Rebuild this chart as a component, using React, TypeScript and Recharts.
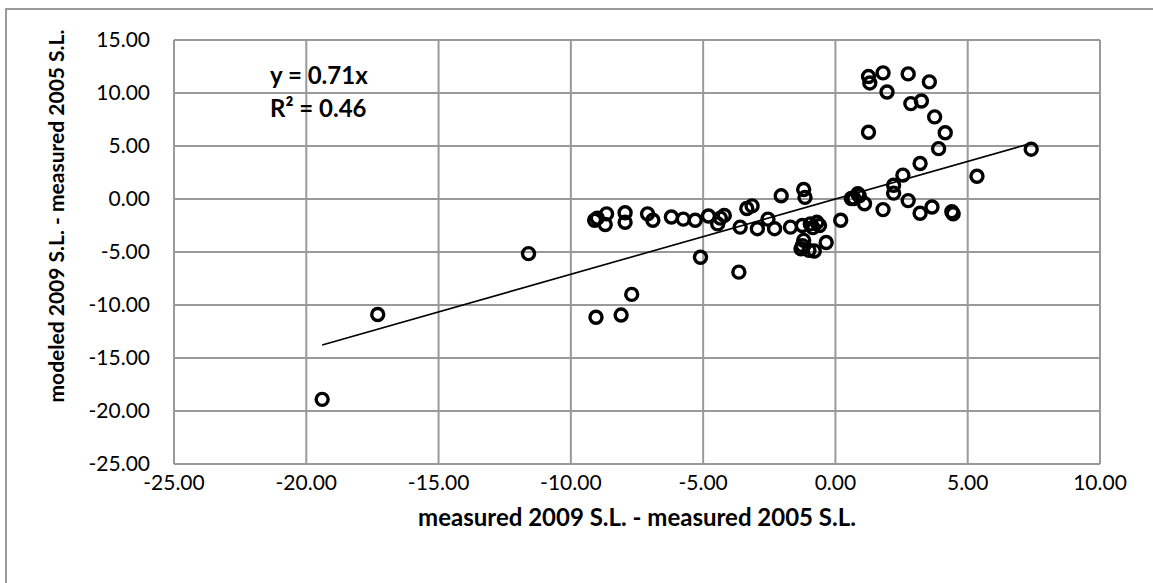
import React from 'react';
import { ScatterChart, Scatter, XAxis, YAxis, CartesianGrid, ReferenceLine, Label } from 'recharts';

// measured 2009 S.L. - measured 2005 S.L.
const measured = [
  -19.4, -17.3, -11.6, -9.05, -8.1, -7.7,
  -9.1, -9.0, -8.65, -8.7, -7.95, -7.95, -7.1, -6.9, -6.2, -5.75, -5.3,
  -4.8, -4.45, -4.2, -4.35, -3.6, -3.35, -3.15, -2.95, -2.55, -2.3, -2.05, -1.7,
  -1.2, -1.15, -1.25, -0.95, -0.7, -0.6, -0.85, -1.2, -1.25, -1.0, -0.8, -0.35, -1.3,
  0.2, 0.7, 0.9, -3.65, -5.1,
  1.25, 1.3, 1.8, 2.75, 3.55, 1.95, 2.85, 3.25, 3.75, 4.15, 1.25, 3.9, 3.2, 2.55,
  2.2, 2.2, 0.85, 0.6, 1.1, 1.8, 2.75, 3.2, 3.65, 4.4, 4.45, 5.35, 7.4,
];

// modeled 2009 S.L. - measured 2005 S.L.
const modeled = [
  -18.9, -10.9, -5.15, -11.15, -10.95, -9.0,
  -2.0, -1.8, -1.4, -2.4, -1.3, -2.2, -1.4, -2.0, -1.7, -1.9, -2.0,
  -1.6, -2.35, -1.55, -1.8, -2.65, -0.9, -0.65, -2.8, -1.9, -2.8, 0.3, -2.65,
  0.9, 0.15, -2.5, -2.35, -2.2, -2.5, -2.7, -3.9, -4.4, -4.85, -4.9, -4.1, -4.7,
  -2.0, 0.05, 0.3, -6.9, -5.5,
  11.55, 10.95, 11.9, 11.8, 11.05, 10.1, 9.0, 9.25, 7.75, 6.25, 6.3, 4.75, 3.35, 2.25,
  1.3, 0.55, 0.5, 0.05, -0.45, -1.0, -0.15, -1.35, -0.75, -1.2, -1.4, 2.15, 4.7,
];

const xTicks = [-25, -20, -15, -10, -5, 0, 5, 10];
const yTicks = [-25, -20, -15, -10, -5, 0, 5, 10, 15];
const slope = 0.71;
const rSquared = 0.46;

const points = measured.map((x, i) => ({ x, y: modeled[i] }));
const minX = Math.min(...measured);
const maxX = Math.max(...measured);

const font = 'Lato, "Open Sans", sans-serif';
const gridColor = '#9a9a9a';

const Ring = (props: any) => (
  <circle cx={props.cx} cy={props.cy} r={6} fill="none" stroke="#000" strokeWidth={3.4} />
);

export default function App() {
  return (
    <div style={{ position: 'absolute', left: 0, top: 0, width: 1153, height: 583, background: '#fff', fontFamily: font }}>
      {/* chart frame */}
      <div style={{ position: 'absolute', left: 5, top: 8, width: 1148, height: 575, borderLeft: `2px solid ${gridColor}`, borderTop: `2px solid ${gridColor}`, boxSizing: 'border-box' }} />
      <div style={{ position: 'absolute', left: 0, top: 0 }}>
        <ScatterChart width={1153} height={583} margin={{ top: 40, right: 53, bottom: 59, left: 74 }}>
          <CartesianGrid stroke={gridColor} strokeWidth={2} />
          <XAxis
            type="number"
            dataKey="x"
            domain={[-25, 10]}
            ticks={xTicks}
            tickFormatter={(v: number) => v.toFixed(2)}
            axisLine={{ stroke: gridColor, strokeWidth: 2 }}
            tickLine={false}
            tickSize={0}
            tickMargin={11}
            height={60}
            tick={{ fill: '#000', fontSize: 21, fontFamily: font }}
          >
            <Label
              content={() => (
                <text x={637} y={526} textAnchor="middle" fontSize={24} fontWeight="bold" fontFamily={font} fill="#000">
                  measured 2009 S.L. - measured 2005 S.L.
                </text>
              )}
            />
          </XAxis>
          <YAxis
            type="number"
            dataKey="y"
            domain={[-25, 15]}
            ticks={yTicks}
            tickFormatter={(v: number) => v.toFixed(2)}
            axisLine={{ stroke: gridColor, strokeWidth: 2 }}
            tickLine={false}
            tickSize={0}
            tickMargin={24}
            width={100}
            tick={{ fill: '#000', fontSize: 21, fontFamily: font }}
          >
            <Label
              content={() => (
                <text
                  x={64}
                  y={216}
                  transform="rotate(-90 64 216)"
                  textAnchor="middle"
                  fontSize={21}
                  fontWeight="bold"
                  fontFamily={font}
                  fill="#000"
                >
                  modeled 2009 S.L. - measured 2005 S.L.
                </text>
              )}
            />
          </YAxis>
          <ReferenceLine
            segment={[{ x: minX, y: slope * minX }, { x: maxX, y: slope * maxX }]}
            stroke="#000"
            strokeWidth={1.6}
          />
          <Scatter data={points} shape={Ring} isAnimationActive={false} />
        </ScatterChart>
      </div>
      <svg width={1153} height={583} style={{ position: 'absolute', left: 0, top: 0, pointerEvents: 'none' }}>
        <text x={270} y={84} fontSize={24} fontWeight="bold" fontFamily={font} fill="#000">
          y = {slope}x
        </text>
        <text x={270} y={117} fontSize={24} fontWeight="bold" fontFamily={font} fill="#000">
          R² = {rSquared}
        </text>
      </svg>
    </div>
  );
}
